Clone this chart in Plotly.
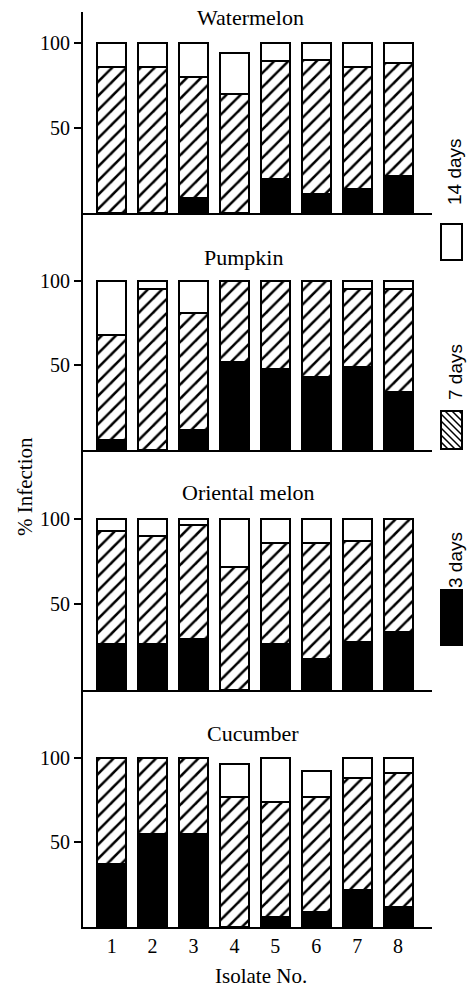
import plotly.graph_objects as go

# ---------------- data (cumulative % infection) ----------------
isolates = [1, 2, 3, 4, 5, 6, 7, 8]
crops = ["Watermelon", "Pumpkin", "Oriental melon", "Cucumber"]
y_ticks = [50, 100]
legend_labels = ["14 days", "7 days", "3 days"]

watermelon_3d = [0, 0, 9, 0, 20, 11, 14, 22]
watermelon_7d = [86, 86, 80, 70, 89, 90, 86, 88]
watermelon_14d = [100, 100, 100, 94, 100, 100, 100, 100]

pumpkin_3d = [6, 0, 12, 52, 48, 43, 49, 34]
pumpkin_7d = [68, 95, 81, 100, 100, 100, 95, 95]
pumpkin_14d = [100, 100, 100, 100, 100, 100, 100, 100]

oriental_3d = [27, 27, 30, 0, 27, 18, 28, 34]
oriental_7d = [93, 90, 96, 72, 86, 86, 87, 100]
oriental_14d = [100, 100, 100, 100, 100, 100, 100, 100]

cucumber_3d = [37, 55, 55, 0, 6, 9, 22, 12]
cucumber_7d = [100, 100, 100, 77, 74, 77, 88, 91]
cucumber_14d = [100, 100, 100, 96, 100, 92, 100, 100]

panels = [
    (watermelon_3d, watermelon_7d, watermelon_14d),
    (pumpkin_3d, pumpkin_7d, pumpkin_14d),
    (oriental_3d, oriental_7d, oriental_14d),
    (cucumber_3d, cucumber_7d, cucumber_14d),
]

# ---------------- layout geometry ----------------
W, H = 468, 989
ML, MR, MT, MB = 83, 36, 12, 62
PW, PH = W - ML - MR, H - MT - MB
SERIF = "Liberation Serif, Times New Roman, serif"
SANS = "Liberation Sans, Arial, sans-serif"


def px_x(p):
    return (p - ML) / PW


def px_y(p):
    return (H - MB - p) / PH


panel_tops = [12, 213, 450, 690]
panel_bots = [213, 450, 690, 927]
y_max = [118, 140, 140, 140]
title_x = [250, 243, 248, 253]
title_y = [17, 257, 492, 733]

fig = go.Figure()
line = dict(color="black", width=2)

for i, (c3, c7, c14) in enumerate(panels):
    n = i + 1
    xa = "x" if n == 1 else f"x{n}"
    ya = "y" if n == 1 else f"y{n}"
    seg3 = list(c3)
    seg7 = [b - a for a, b in zip(c3, c7)]
    seg14 = [b - a for a, b in zip(c7, c14)]
    fig.add_trace(go.Bar(x=isolates, y=seg3, xaxis=xa, yaxis=ya, width=0.71,
                         marker=dict(color="black", line=line), showlegend=False))
    fig.add_trace(go.Bar(x=isolates, y=seg7, xaxis=xa, yaxis=ya, width=0.71,
                         marker=dict(color="white", line=line,
                                     pattern=dict(shape="/", fgcolor="black", bgcolor="white",
                                                  fgopacity=1, size=10, solidity=0.25,
                                                  fillmode="overlay")),
                         showlegend=False))
    fig.add_trace(go.Bar(x=isolates, y=seg14, xaxis=xa, yaxis=ya, width=0.71,
                         marker=dict(color="white", line=line), showlegend=False))

    dom = [px_y(panel_bots[i]), px_y(panel_tops[i])]
    fig.layout[f"xaxis{'' if n == 1 else n}"] = dict(
        domain=[0, 1], anchor=ya, range=[0.3, 8.83], showline=True, linecolor="black",
        linewidth=2, showgrid=False, zeroline=False, ticks="",
        showticklabels=(n == 4), tickvals=isolates, ticktext=[str(v) for v in isolates],
        tickfont=dict(family=SERIF, size=20, color="black"),
        matches=None if n == 1 else "x",
    )
    fig.layout[f"yaxis{'' if n == 1 else n}"] = dict(
        domain=dom, anchor=xa, range=[0, y_max[i]], showline=True, linecolor="black",
        linewidth=2, showgrid=False, zeroline=False, ticks="outside", ticklen=7,
        tickwidth=2, tickcolor="black", tickvals=y_ticks,
        tickfont=dict(family=SERIF, size=20, color="black"),
    )
    fig.add_annotation(text=crops[i], xref="paper", yref="paper",
                       x=px_x(title_x[i]), y=px_y(title_y[i]), showarrow=False,
                       xanchor="center", yanchor="middle",
                       font=dict(family=SERIF, size=22, color="black"))

fig.update_layout(barmode="stack", bargap=0)

# axis titles
fig.add_annotation(text="% Infection", xref="paper", yref="paper", x=px_x(25), y=px_y(487),
                   textangle=-90, showarrow=False, xanchor="center", yanchor="middle",
                   font=dict(family=SERIF, size=21, color="black"))
fig.add_annotation(text="Isolate No.", xref="paper", yref="paper", x=px_x(261), y=px_y(976),
                   showarrow=False, xanchor="center", yanchor="middle",
                   font=dict(family=SERIF, size=21, color="black"))

# legend (rotated, on the right)
leg_text_y = [172, 372, 560]
leg_sq = [(224, 260), (411, 449), (590, 645)]
sq_x0, sq_x1 = 441, 462
for lab, ty in zip(legend_labels, leg_text_y):
    fig.add_annotation(text=lab, xref="paper", yref="paper", x=px_x(455), y=px_y(ty),
                       textangle=-90, showarrow=False, xanchor="center", yanchor="middle",
                       font=dict(family=SANS, size=19, color="black"))

fills = ["white", "white", "black"]
for (y0, y1), fc in zip(leg_sq, fills):
    fig.add_shape(type="rect", xref="paper", yref="paper",
                  x0=px_x(sq_x0), x1=px_x(sq_x1), y0=px_y(y1), y1=px_y(y0),
                  fillcolor=fc, line=dict(color="black", width=2))

# hatch lines in the middle legend square ("\" direction, legend is rotated)
hy0, hy1 = leg_sq[1]
path = ""
c = sq_x0 - hy1
while c < sq_x1 - hy0:
    xs = max(sq_x0, hy0 + c)
    xe = min(sq_x1, hy1 + c)
    if xe > xs:
        path += f"M{px_x(xs)},{px_y(xs - c)} L{px_x(xe)},{px_y(xe - c)} "
    c += 7
fig.add_shape(type="path", xref="paper", yref="paper", path=path,
              line=dict(color="black", width=1.5))

fig.update_layout(
    width=W, height=H, margin=dict(l=ML, r=MR, t=MT, b=MB),
    paper_bgcolor="white", plot_bgcolor="white", showlegend=False,
)

fig.write_html("out.html", config={"displayModeBar": False},
               post_script="document.body.style.margin='0';")
